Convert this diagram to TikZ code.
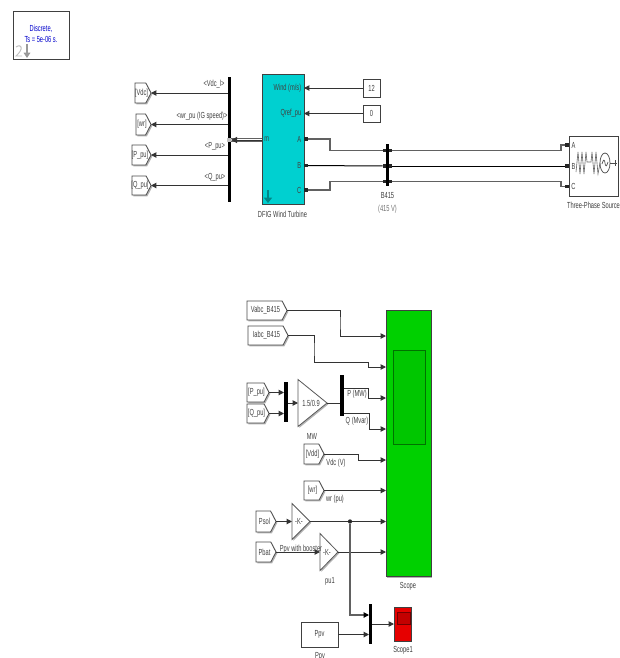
\documentclass[tikz,border=0pt]{standalone}
\usepackage{fontspec}
\setmainfont[FakeStretch=0.65]{Liberation Sans}
\usetikzlibrary{arrows.meta,shapes.geometric,shapes.symbols,shadows}
\definecolor{dfigc}{RGB}{0,208,208}
\definecolor{scopeg}{RGB}{0,208,0}
\definecolor{scoper}{RGB}{230,0,0}
\tikzset{
  lab/.style={font=\fontsize{6.6}{7}\selectfont,text=black!75,inner sep=0pt},
  sh/.style={drop shadow={shadow xshift=1pt,shadow yshift=-1pt,fill=black!55,opacity=.55}},
  blockbox/.style={draw=black!75,line width=.6pt,fill=white,inner sep=0pt,outer sep=0pt,rectangle,sh,lab},
  tag/.style={draw=black!70,line width=.6pt,fill=white,inner sep=0pt,outer sep=0pt,shape=signal,signal from=nowhere,signal to=east,signal pointer angle=125,sh,lab},
  busbar/.style={fill=black,draw=none,inner sep=0pt,outer sep=0pt,rectangle},
  port/.style={fill=black!85,draw=none,inner sep=0pt,minimum size=2.4pt,rectangle},
  gainb/.style={draw=black!65,line width=.6pt,fill=white,inner sep=0pt,outer sep=0pt,shape=isosceles triangle,isosceles triangle stretches,sh,lab},
  wire/.style={line width=.75pt,draw=black!80},
  gwire/.style={line width=.85pt,draw=black!62},
  arr/.style={wire,-{Triangle[length=4pt,width=4pt]}},
  garr/.style={gwire,-{Triangle[length=4pt,width=4pt,color=black]}}
}
\newcommand{\blk}[7]{\node[#6,minimum width={((#4)-(#2))*0.75pt},minimum height={((#5)-(#3))*0.75pt}] (#1) at ({((#2)+(#4))/2},{((#3)+(#5))/2}) {#7};}
\newcommand{\tagn}[6]{\node[tag,anchor=east,minimum width={((#4)-(#2))*0.75pt},minimum height={((#5)-(#3))*0.75pt}] (#1) at (#4,{((#3)+(#5))/2}) {};
  \node[lab] (#1t) at ({((#2)+(#4))/2-1.5},{((#3)+(#5))/2}) {#6};}
\begin{document}
\begin{tikzpicture}[x=0.75pt,y=-0.75pt]
\useasboundingbox (0,0) rectangle (620,658);
\fill[white] (0,0) rectangle (620,658);
% Discrete block
\blk{pg}{13}{11}{69}{59}{blockbox,text=blue!80!black}{\raisebox{5pt}{\begin{tabular}{@{}c@{}}Discrete,\\[1pt]Ts = 5e-06 s.\end{tabular}}}
\draw[black!40,line width=.8pt,-{Triangle[length=4pt,width=5pt]}] (27,44) -- (27,58);
\draw[black!25,line width=.7pt] (16,47) .. controls (22,43) and (24,49) .. (16,56) -- (22,56);
% DFIG
\blk{dfig}{262}{74}{304}{204}{blockbox,fill=dfigc}{}
\draw[black!35!dfigc,line width=1pt,-{Triangle[length=4pt,width=6pt]}] (268,190) -- (268,203);
\node[lab,anchor=east] (dw) at (301.5,88) {Wind (m/s)};
\node[lab,anchor=east] (dq) at (301.5,113) {Qref\_pu};
\node[lab,anchor=east] (da) at (301.5,139) {A};
\node[lab,anchor=east] (db) at (301.5,165) {B};
\node[lab,anchor=east] (dc) at (301.5,190) {C};
\node[lab,anchor=west] (dm) at (264,139.5) {m};
\node[lab] (dfigl) at (282.5,214) {DFIG Wind Turbine};
% Constants
\blk{c12}{363}{79}{380}{97}{blockbox}{12}
\blk{c0}{363}{105}{380}{122}{blockbox}{0}
\draw[arr] (c12.west) -- (c12.west -| dfig.east);
\draw[arr] (c0.west) -- (c0.west -| dfig.east);
% Demux bus
\blk{bus1}{227.5}{77}{231}{202}{busbar}{}
\tagn{tvdc}{135}{83}{151}{103}{[Vdc]}
\tagn{twr}{136}{114}{151}{135}{[wr]}
\tagn{tp}{132}{145}{151}{165}{[P\_pu]}
\tagn{tq}{132}{176}{151}{195}{[Q\_pu]}
\draw[arr] (tvdc.east -| bus1.west) -- (tvdc.east);
\draw[arr] (twr.east -| bus1.west) -- (twr.east);
\draw[arr] (tp.east -| bus1.west) -- (tp.east);
\draw[arr] (tq.east -| bus1.west) -- (tq.east);
\node[lab] (l1) at (214,84) {<Vdc\_l>};
\node[lab] (l2) at (202,116) {<wr\_pu (IG speed)>};
\node[lab] (l3) at (215,146) {<P\_pu>};
\node[lab] (l4) at (215,177) {<Q\_pu>};
\coordinate (dfm) at (262,140);
\coordinate (busm) at (231,140);
\draw[gwire,line width=.5pt,transform canvas={yshift=1.1pt}] (dfm) -- (busm);
\draw[gwire,line width=.5pt,transform canvas={yshift=-1.1pt}] (dfm) -- (busm);
\draw[wire,-{Triangle[length=4.5pt,width=4.5pt]}] (dfm) -- (busm);
\node[rectangle,fill=black!25,inner sep=0pt,minimum size=3pt] (bp) at (229,139.5) {};
% Three-phase source
\blk{src}{569}{136}{618}{196}{blockbox}{}
\node[lab] (sa) at (573.5,145) {A};
\node[lab] (sb) at (573.5,166) {B};
\node[lab] (sc) at (573.5,186.5) {C};
\node[lab] (srcl) at (593.5,205) {Three-Phase Source};
\draw[black!60,line width=.45pt] (576,172) -- (578,152) -- (580,174) -- (582,152) -- (584,174) -- (586,152) -- (587,162) -- (591,162)
 -- (592,152) -- (594,174) -- (596,152) -- (598,174) -- (600,163);
\draw[black!70,line width=.55pt] (605,163) ellipse [x radius=5,y radius=10];
\draw[black!70,line width=.5pt] (602,164) .. controls (603.5,159) and (604.5,159) .. (605,163) .. controls (605.5,167) and (606.5,167) .. (608,162);
\draw[black!70,line width=.6pt] (610,163) -- (617,163);
\draw[black!70,line width=.6pt] (615,160) -- (615,166);
% Bus B415
\blk{bar}{386}{144}{389}{186}{busbar}{}
\node[lab] (barl) at (387.5,196) {B415};
\node[lab,text=black!55] (barv) at (387.5,209) {(415 V)};
\node[port] (pa) at (306,139) {};
\node[port] (pb) at (306,165.5) {};
\node[port] (pc) at (306,190) {};
\node[port] (bla) at (384.5,150.7) {};
\node[port] (blb) at (384.5,166) {};
\node[port] (blc) at (384.5,181.3) {};
\node[port] (bra) at (390.5,150.7) {};
\node[port] (brb) at (390.5,166) {};
\node[port] (brc) at (390.5,181.3) {};
\node[port] (sra) at (567,145) {};
\node[port] (srb) at (567,166) {};
\node[port] (src3) at (567,186.7) {};
\coordinate (ma) at (330,145);
\coordinate (mc) at (330,185);
\coordinate (na) at (561,148);
\coordinate (nc) at (561,184);
\draw[gwire] (pa) -| (ma) |- (bla);
\draw[wire,draw=black] (pb) -- (blb);
\draw[gwire] (pc) -| (mc) |- (blc);
\draw[gwire] (bra) -| (na) |- (sra);
\draw[wire,draw=black] (brb) -- (srb);
\draw[gwire] (brc) -| (nc) |- (src3);
% Scope
\blk{scope}{386}{310.5}{431}{576.5}{blockbox,fill=scopeg}{}
\blk{scopein}{393}{350}{425}{444}{rectangle,draw=black!45!scopeg,fill=scopeg!95!black,line width=.7pt,inner sep=0pt}{}
\node[lab] (scopel) at (408,586) {Scope};
% Inputs
\tagn{tv}{247}{301}{287}{320}{Vabc\_B415}
\tagn{ti}{248}{326}{288}{345}{Iabc\_B415}
\coordinate (v1) at (340,323);
\coordinate (si1) at (386,336);
\coordinate (i1) at (314,350);
\coordinate (i2) at (368,362);
\coordinate (si2) at (386,367);
\draw[arr] (tv.east) -| (v1) |- (si1);
\draw[arr] (ti.east) -| (i1) |- (i2) |- (si2);
\tagn{tp2}{247}{383}{269}{402}{[P\_pu]}
\tagn{tq2}{247}{404}{269}{423}{[Q\_pu]}
\blk{mux1}{284}{382}{288}{422}{busbar}{}
\draw[arr] (tp2.east) -- (tp2.east -| mux1.west);
\draw[arr] (tq2.east) -- (tq2.east -| mux1.west);
\node[gainb,minimum width=47*0.75pt,minimum height=29*0.75pt,anchor=apex] (gain1) at (327,403) {};
\node[lab] (gain1t) at (311,403) {1.5/0.9};
\coordinate (g1in) at (298,403);
\draw[arr] (mux1.east |- gain1.apex) -- (g1in);
\node[lab] (mwl) at (312,436) {MW};
\blk{dem1}{340}{375}{344}{416}{busbar}{}
\draw[wire] (gain1.apex) -- (gain1.apex -| dem1.west);
\coordinate (p1) at (344,388);
\coordinate (p2) at (368,398);
\coordinate (p3) at (386,398);
\coordinate (q1) at (344,413);
\coordinate (q2) at (369,429);
\coordinate (q3) at (386,429);
\draw[arr] (p1) -| (p2) -- (p3);
\draw[arr] (q1) -| (q2) -- (q3);
\node[lab] (pl) at (357,394) {P (MW)};
\node[lab] (ql) at (357,421) {Q (Mvar)};
\tagn{tvd}{304}{444}{324}{464}{[Vdd]}
\coordinate (vd1) at (358,460);
\coordinate (vd2) at (386,460);
\draw[arr] (tvd.east) -| (vd1) -- (vd2);
\node[lab] (vdl) at (336,463) {Vdc (V)};
\tagn{twr2}{304}{481}{324}{500}{[wr]}
\draw[arr] (twr2.east) -- (twr2.east -| scope.west);
\node[lab] (wrl) at (335,499) {wr (pu)};
\tagn{tsol}{256}{511}{276}{532}{Psol}
\tagn{tbat}{256}{542}{276}{562}{Pbat}
\node[gainb,minimum width=36*0.75pt,minimum height=18*0.75pt,anchor=apex] (gain2) at (310,521.5) {};
\node[lab] (g2t) at (299,521.5) {-K-};
\node[gainb,minimum width=37*0.75pt,minimum height=18*0.75pt,anchor=apex] (gain3) at (338,552) {};
\node[lab] (g3t) at (327,552) {-K-};
\coordinate (g2in) at (292,521.5);
\coordinate (g3in) at (320,552);
\draw[arr] (tsol.east) -- (g2in);
\draw[arr] (tbat.east) -- (g3in);
\draw[arr] (gain2.apex) -- (gain2.apex -| scope.west);
\draw[arr] (gain3.apex) -- (gain3.apex -| scope.west);
\node[lab] (g2l) at (301,549) {Ppv with booster};
\node[lab] (g3l) at (330,581) {pu1};
\node[circle,fill=black!85,inner sep=0pt,minimum size=3.2pt] (dot) at (350,521.5) {};
\blk{mux2}{369}{604}{372}{644}{busbar}{}
\blk{ppv}{301}{622}{338}{647}{blockbox}{Ppv}
\node[lab] (ppvl) at (320,656) {Ppv};
\coordinate (m2a) at (369,615);
\draw[garr] (dot) |- (m2a);
\draw[arr] (ppv.east) -- (ppv.east -| mux2.west);
\blk{sc1}{394}{607}{411}{641}{blockbox,fill=scoper}{}
\blk{sc1in}{397}{612}{410}{624}{rectangle,draw=scoper!50!black,fill=scoper!85!black,line width=.6pt,inner sep=0pt}{}
\draw[arr] (sc1.west -| mux2.east) -- (sc1.west);
\node[lab] (sc1l) at (403,650) {Scope1};
\end{tikzpicture}
\end{document}
